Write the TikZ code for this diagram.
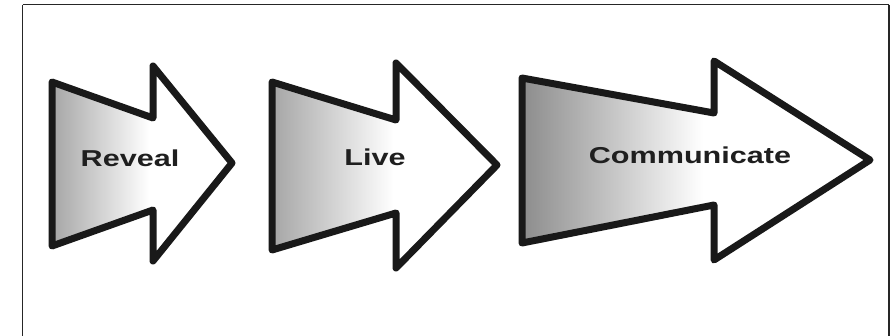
\documentclass[tikz,border=0pt]{standalone}
\usepackage{fontspec}
\setmainfont{Liberation Sans}
\pgfdeclarehorizontalshading{arrowshadeA}{100bp}{color(0bp)=(black!35); color(25bp)=(black!35); color(52bp)=(white); color(100bp)=(white)}
\pgfdeclarehorizontalshading{arrowshadeB}{100bp}{color(0bp)=(black!45); color(25bp)=(black!45); color(51bp)=(white); color(100bp)=(white)}
\begin{document}
\begin{tikzpicture}[x=1pt,y=-1pt,
  bigarrow/.style={draw=black!90,line width=7pt,line join=round},
  label/.style={font=\bfseries\fontsize{23}{23}\selectfont,text=black!88,xscale=1.33,inner sep=0pt}]
\useasboundingbox (0,0) rectangle (893,336);
\fill[white] (0,0) rectangle (893,336);
\draw[line width=1pt,black!85] (22.5,5) -- (889,5);
\draw[line width=1pt,black!85] (22.5,5) -- (22.5,340);
\draw[line width=2pt,black!85] (889,5) -- (889,340);
% arrow 1
\draw[bigarrow,shading=arrowshadeA] (52,82) -- (153,118) -- (153,66) -- (232,163) -- (153,261) -- (153,210) -- (52,246) -- cycle;
% arrow 2
\draw[bigarrow,shading=arrowshadeA] (272,82) -- (396,120) -- (396,63) -- (497,165) -- (396,268) -- (396,213) -- (272,250) -- cycle;
% arrow 3
\draw[bigarrow,shading=arrowshadeB] (522,78) -- (714,113) -- (714,61) -- (870,160) -- (714,260) -- (714,205) -- (522,243) -- cycle;
\node[label] (reveal) at (130,158) {Reveal};
\node[label] (live) at (375,157) {Live};
\node[label] (comm) at (690,155) {Communicate};
\end{tikzpicture}
\end{document}
